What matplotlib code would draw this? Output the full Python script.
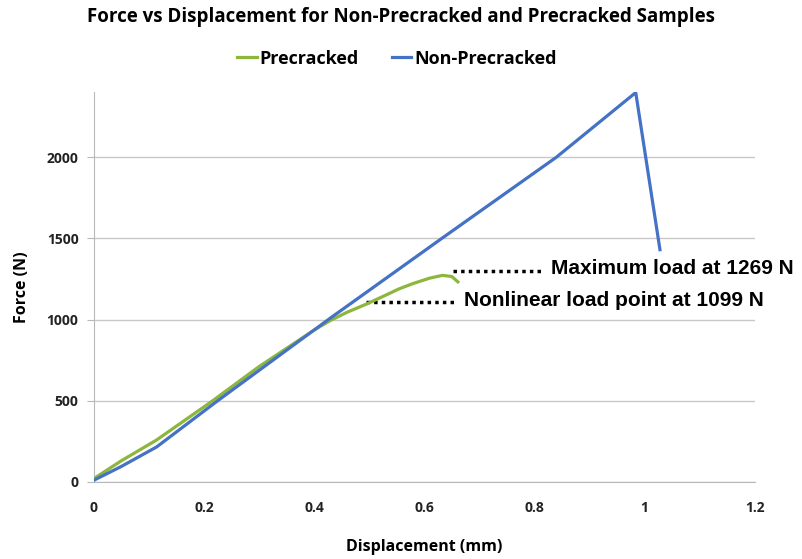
import matplotlib
matplotlib.use('Agg')
import matplotlib.pyplot as plt

# Precracked sample (green)
pre_x = [0.0, 0.05, 0.114, 0.216, 0.30, 0.40, 0.43, 0.46, 0.495, 0.53, 0.555, 0.58, 0.61, 0.633, 0.65, 0.661]
pre_y = [20, 130, 258, 500, 710, 935, 995, 1045, 1095, 1150, 1190, 1222, 1255, 1272, 1265, 1232]

# Non-precracked sample (blue)
non_x = [0.0, 0.05, 0.114, 0.225, 0.43, 0.632, 0.84, 0.984, 1.028]
non_y = [10, 95, 215, 500, 1010, 1500, 2000, 2398, 1430]

x_ticks = [0, 0.2, 0.4, 0.6, 0.8, 1, 1.2]
x_labels = ['0', '0.2', '0.4', '0.6', '0.8', '1', '1.2']
y_ticks = [0, 500, 1000, 1500, 2000]

green = '#8cb63c'
blue = '#4472c4'
label_font = 'Open Sans'

fig = plt.figure(figsize=(8.02, 5.59), dpi=100)
ax = fig.add_axes([0.117, 0.138, 0.824, 0.697])

ax.plot(pre_x, pre_y, color=green, lw=2.3, label='Precracked', zorder=3)
ax.plot(non_x, non_y, color=blue, lw=2.3, label='Non-Precracked', zorder=3)

ax.set_xlim(0, 1.2)
ax.set_ylim(0, 2400)
ax.set_xticks(x_ticks)
ax.set_xticklabels(x_labels)
ax.set_yticks(y_ticks)
ax.grid(axis='y', color='#c8c8c8', lw=1)
ax.set_axisbelow(True)
for s in ['top', 'right']:
    ax.spines[s].set_visible(False)
for s in ['left', 'bottom']:
    ax.spines[s].set_color('#b8b8b8')
ax.tick_params(axis='x', length=0, pad=14)
ax.tick_params(axis='y', length=5, color='#b8b8b8', direction='out', pad=6)
for lab in ax.get_xticklabels() + ax.get_yticklabels():
    lab.set_fontfamily(label_font)
    lab.set_fontweight('bold')
    lab.set_fontsize(10)
    lab.set_color('#222222')

ax.set_xlabel('Displacement (mm)', fontfamily=label_font, fontweight='bold', fontsize=11.5, labelpad=17)
ax.set_ylabel('Force (N)', fontfamily=label_font, fontweight='bold', fontsize=11.5, labelpad=12)

fig.suptitle('Force vs Displacement for Non-Precracked and Precracked Samples',
             fontfamily=label_font, fontweight='bold', fontsize=13.5, y=0.988)

leg = fig.legend(loc='center', bbox_to_anchor=(0.495, 0.895), ncol=2, frameon=False,
                 handlelength=1.1, handletextpad=0.15, columnspacing=1.8,
                 prop={'family': label_font, 'weight': 'bold', 'size': 13})

# annotations
ax.plot([0.653, 0.815], [1298, 1298], color='black', lw=2.5, ls=(0, (1, 1.2)))
ax.text(0.831, 1316, 'Maximum load at 1269 N', fontfamily='Liberation Sans',
        fontweight='bold', fontsize=15, va='center', clip_on=False)
ax.plot([0.495, 0.655], [1107, 1107], color='black', lw=2.5, ls=(0, (1, 1.2)))
ax.text(0.673, 1120, 'Nonlinear load point at 1099 N', fontfamily='Liberation Sans',
        fontweight='bold', fontsize=15, va='center', clip_on=False)

fig.savefig('out.png', dpi=100)
